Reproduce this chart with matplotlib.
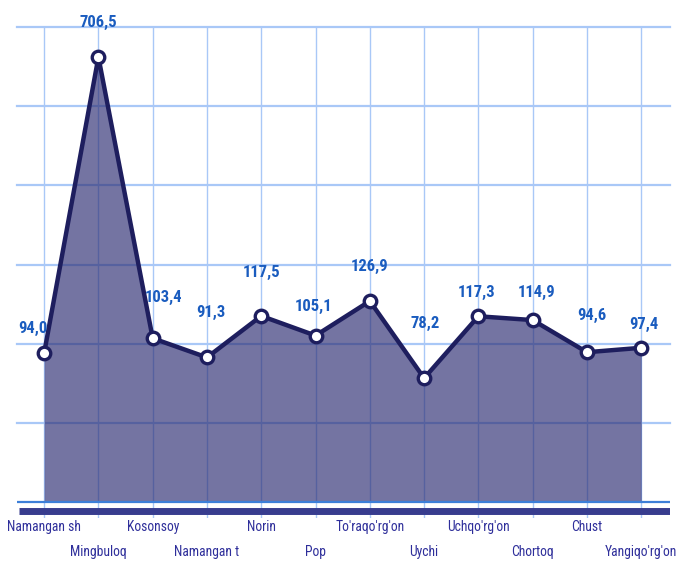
import matplotlib
matplotlib.use("Agg")
import matplotlib.pyplot as plt
import numpy as np

categories = ["Namangan sh", "Mingbuloq", "Kosonsoy", "Namangan t", "Norin", "Pop",
              "To'raqo'rg'on", "Uychi", "Uchqo'rg'on", "Chortoq", "Chust", "Yangiqo'rg'on"]
values = [94.0, 706.5, 103.4, 91.3, 117.5, 105.1, 126.9, 78.2, 117.3, 114.9, 94.6, 97.4]
axis_cap = 281  # the source chart clips the tallest point near the top of the plot

# label offsets in pixels (dx, dy) as placed in the source chart
label_offsets = [(-11, 25), (0, 35), (11, 41), (4, 45), (0, 43), (-2, 29),
                 (0, 35), (1, 55), (-2, 24), (4, 28), (5, 37), (3, 23)]

plt.rcParams['font.family'] = ['Roboto Condensed', 'Asap Condensed', 'DejaVu Sans']

fig = plt.figure(figsize=(6.79, 5.63), dpi=100)
W, H = 679, 563
px_per_unit = 475 / 300
y_bottom = -10
top_px, zero_px = 27, 502
bottom_px = zero_px - y_bottom * px_per_unit
ax = fig.add_axes([17 / W, 1 - bottom_px / H, 653 / W, (bottom_px - top_px) / H])
ax.set_xlim(-0.5, 11.53)
ax.set_ylim(y_bottom, 300)
for s in ax.spines.values():
    s.set_visible(False)
ax.set_xticks([])
ax.set_yticks([])

x = np.arange(len(categories))
shown = np.minimum(values, axis_cap)

grid_c = '#a9c8f7'
for gy in [50, 100, 150, 200, 250, 300]:
    ax.axhline(gy, color=grid_c, lw=1.6, zorder=1, clip_on=False)
for xi in x:
    ax.vlines(xi, y_bottom, 300, color=grid_c, lw=1.0, zorder=1)

ax.fill_between(x, 0, shown, color='#2a2a70', alpha=0.65, lw=0, zorder=2)
ax.axhline(0, color='#3d7fd8', lw=1.6, zorder=3)
ax.plot([-0.47, 11.53], [-5.4, -5.4], color='#383c8e', lw=5, solid_capstyle='butt', zorder=3)

ax.plot(x, shown, color='#1e1e5e', lw=3.2, zorder=4, marker='o', ms=9,
        mfc='white', mec='#1e1e5e', mew=2.4, clip_on=False)

for xi, v, s, (dx, dy) in zip(x, values, shown, label_offsets):
    ax.annotate(f"{v:.1f}".replace('.', ','), (xi, s), xytext=(dx * 0.72, dy * 0.72),
                textcoords='offset points', ha='center', va='center',
                fontsize=12, fontweight='bold', color='#1a5cbf', zorder=5)

for i, (xi, c) in enumerate(zip(x, categories)):
    ypx = 527 if i % 2 == 0 else 552
    ax.text(xi, (zero_px - ypx) / px_per_unit, c, ha='center', va='center',
            fontsize=9.8, color='#2e2e9a', clip_on=False)

fig.savefig('out.png', dpi=100)
